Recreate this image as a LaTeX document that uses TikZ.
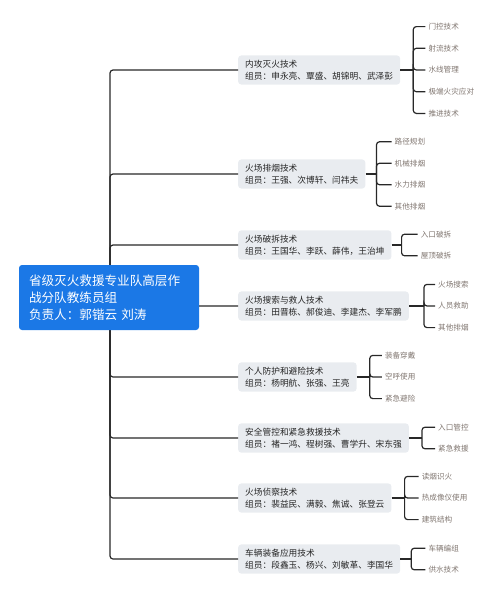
\documentclass[tikz,border=0pt]{standalone}
\usepackage{fontspec}
\setmainfont{Noto Sans CJK SC}
\usetikzlibrary{calc,positioning}
\definecolor{RootBlue}{RGB}{27,120,230}
\definecolor{BoxGray}{RGB}{233,236,240}
\definecolor{LeafGray}{RGB}{128,118,112}
\definecolor{LineDark}{RGB}{40,40,40}
\tikzset{
	conn/.style={draw=LineDark, line width=1.2pt, rounded corners=3pt},
	root/.style={fill=RootBlue, text=white, rounded corners=3pt, align=left, text width=160pt,
		inner xsep=10pt, inner ysep=5pt, minimum height=65pt, font=\fontsize{12.6}{17}\selectfont},
	branch/.style={fill=BoxGray, text=black!85, rounded corners=3pt, align=left, anchor=west,
		inner xsep=7pt, inner ysep=4.5pt, font=\fontsize{8.7}{12}\selectfont},
	leaf/.style={text=LeafGray, anchor=west, inner xsep=3pt, inner ysep=1pt, font=\fontsize{7.6}{9}\selectfont}
}

\begin{document}
\begin{tikzpicture}[x=1pt, y=-1pt]
			\useasboundingbox (0,0) rectangle (500,597);
			% branches
			\node[branch] (b1) at (238,70) {内攻灭火技术\\组员：申永亮、覃盛、胡锦明、武泽彭};
			\node[branch] (b2) at (238,174) {火场排烟技术\\组员：王强、次博轩、闫祎夫};
			\node[branch] (b3) at (238,245) {火场破拆技术\\组员：王国华、李跃、薛伟，王治坤};
			\node[branch] (b4) at (238,306) {火场搜索与救人技术\\组员：田晋栋、郝俊迪、李建杰、李军鹏};
			\node[branch] (b5) at (238,377) {个人防护和避险技术\\组员：杨明航、张强、王亮};
			\node[branch] (b6) at (238,438) {安全管控和紧急救援技术\\组员：褚一鸿、程树强、曹学升、宋东强};
			\node[branch] (b7) at (238,498) {火场侦察技术\\组员：裴益民、满毅、焦诚、张登云};
			\node[branch] (b8) at (238,559) {车辆装备应用技术\\组员：段鑫玉、杨兴、刘敏革、李国华};
			% spine
			\coordinate (sp) at (110,297);
			\foreach \i in {1,...,8}
				\draw[conn] (sp) |- (b\i.west);
			% root
			\node[root] (root) at (109,297.5) {省级灭火救援专业队高层作\\战分队教练员组\\负责人：郭锴云 刘涛};
			% leaves
			\draw[conn] (b1.east) -- ++(13,0) coordinate (j1);
			\foreach \t [count=\i] in {门控技术,射流技术,水线管理,极端火灾应对,推进技术} {
				\node[leaf] (l1\i) at ($(j1)+(12,{(\i-3)*21.7})$) {\t};
				\draw[conn] (j1) |- (l1\i.west);
			}
			\draw[conn] (b2.east) -- ++(11,0) coordinate (j2);
			\foreach \t [count=\i] in {路径规划,机械排烟,水力排烟,其他排烟} {
				\node[leaf] (l2\i) at ($(j2)+(15,{(\i-2.5)*21.5})$) {\t};
				\draw[conn] (j2) |- (l2\i.west);
			}
			\draw[conn] (b3.east) -- ++(10,0) coordinate (j3);
			\foreach \t [count=\i] in {入口破拆,屋顶破拆} {
				\node[leaf] (l3\i) at ($(j3)+(16,{(\i-1.5)*21.6})$) {\t};
				\draw[conn] (j3) |- (l3\i.west);
			}
			\draw[conn] (b4.east) -- ++(15,0) coordinate (j4);
			\foreach \t [count=\i] in {火场搜索,人员救助,其他排烟} {
				\node[leaf] (l4\i) at ($(j4)+(11,{(\i-2)*21.6})$) {\t};
				\draw[conn] (j4) |- (l4\i.west);
			}
			\draw[conn] (b5.east) -- ++(13,0) coordinate (j5);
			\foreach \t [count=\i] in {装备穿戴,空呼使用,紧急避险} {
				\node[leaf] (l5\i) at ($(j5)+(12,{(\i-2)*21.6})$) {\t};
				\draw[conn] (j5) |- (l5\i.west);
			}
			\draw[conn] (b6.east) -- ++(13,0) coordinate (j6);
			\foreach \t [count=\i] in {入口管控,紧急救援} {
				\node[leaf] (l6\i) at ($(j6)+(13,{(\i-1.5)*21.6})$) {\t};
				\draw[conn] (j6) |- (l6\i.west);
			}
			\draw[conn] (b7.east) -- ++(13,0) coordinate (j7);
			\foreach \t [count=\i] in {读烟识火,热成像仪使用,建筑结构} {
				\node[leaf] (l7\i) at ($(j7)+(14,{(\i-2)*21.6})$) {\t};
				\draw[conn] (j7) |- (l7\i.west);
			}
			\draw[conn] (b8.east) -- ++(11,0) coordinate (j8);
			\foreach \t [count=\i] in {车辆编组,供水技术} {
				\node[leaf] (l8\i) at ($(j8)+(14,{(\i-1.5)*21.6})$) {\t};
				\draw[conn] (j8) |- (l8\i.west);
			}
		\end{tikzpicture}
\end{document}
